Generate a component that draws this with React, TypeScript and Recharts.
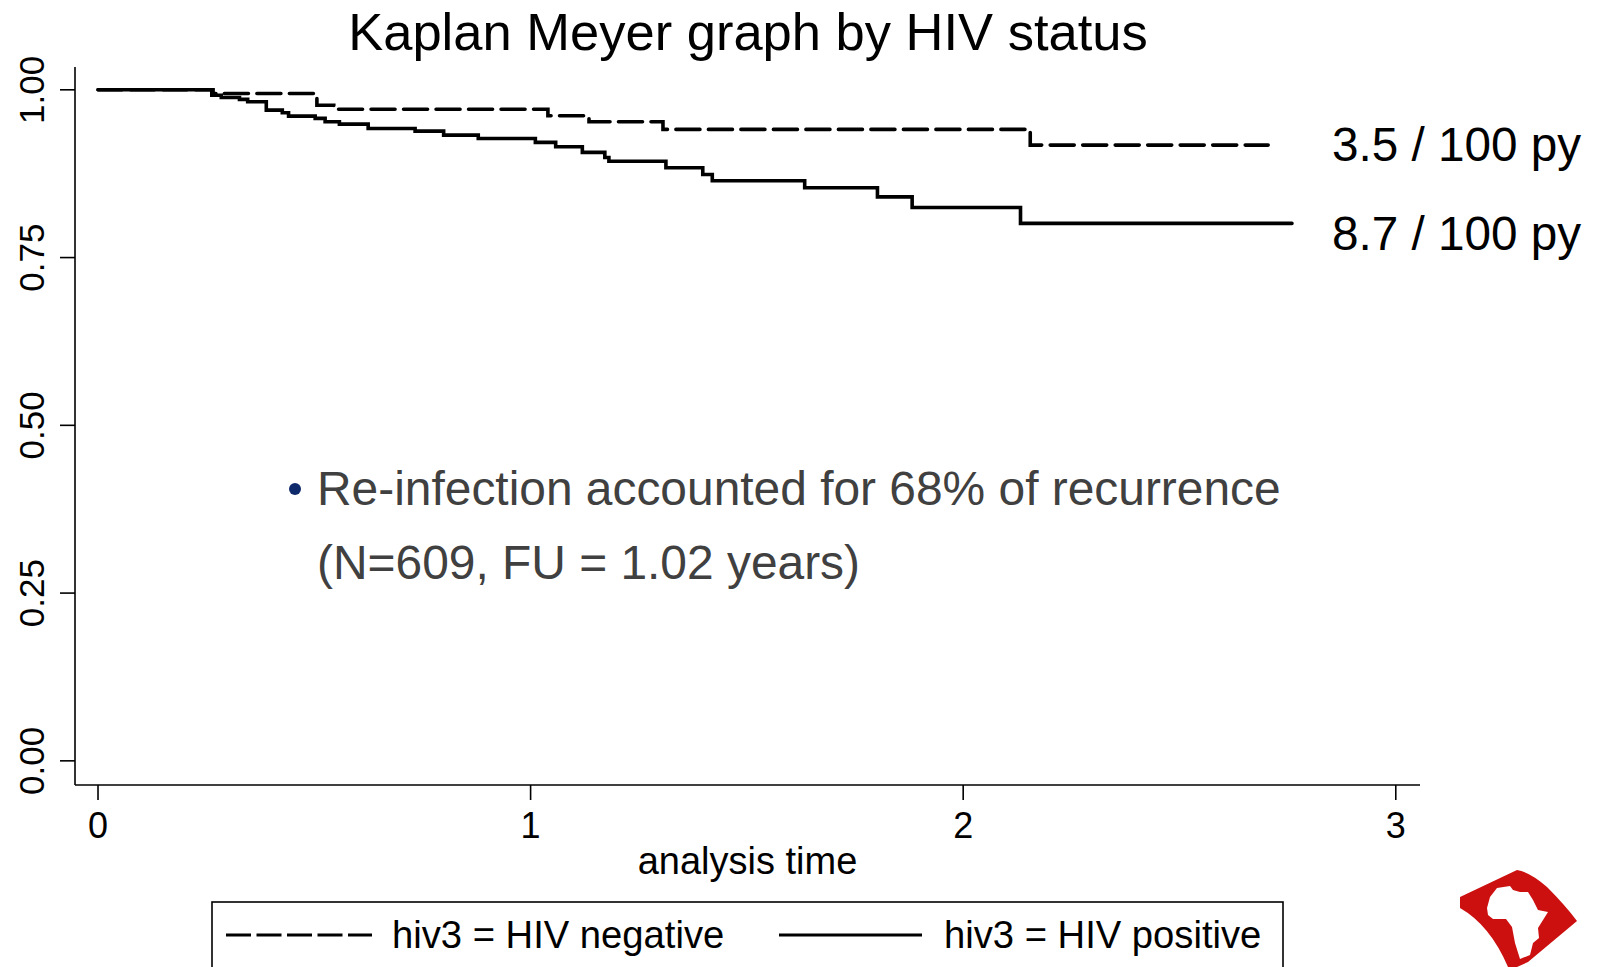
import { Label, Line, LineChart, XAxis, YAxis } from "recharts";

const negativeTimes = [0, 0.266, 0.506, 0.545, 1.04, 1.135, 1.306, 2.155, 2.705];
const negativeSurvival = [1, 0.9946, 0.977, 0.971, 0.9613, 0.9523, 0.941, 0.9176, 0.9176];

const positiveTimes = [
  0, 0.263, 0.285, 0.327, 0.346, 0.389, 0.426, 0.4405, 0.502, 0.525, 0.558, 0.6245, 0.733, 0.799,
  0.879, 1.011, 1.058, 1.1196, 1.1716, 1.181, 1.3128, 1.398, 1.42, 1.6336, 1.8018, 1.882, 2.1325,
  2.76,
];
const positiveSurvival = [
  1, 0.992, 0.9886, 0.9857, 0.9823, 0.9698, 0.9658, 0.9608, 0.9574, 0.9524, 0.9489, 0.9424, 0.9385,
  0.9325, 0.9275, 0.9216, 0.9151, 0.9067, 0.8992, 0.8935, 0.8838, 0.8739, 0.8644, 0.854, 0.8405,
  0.8247, 0.8009, 0.8009,
];

const xTicks = [0, 1, 2, 3];
const yTicks = [0, 0.25, 0.5, 0.75, 1];

const negativeRows = negativeTimes.map((t, i) => ({ t, s: negativeSurvival[i] }));
const positiveRows = positiveTimes.map((t, i) => ({ t, s: positiveSurvival[i] }));

const FONT = '"Liberation Sans", Arial, sans-serif';
const DASH = "24 8.5";

function YTick({ x, y, payload }: any) {
  return (
    <text
      x={x - 14}
      y={y}
      transform={`rotate(-90 ${x - 14} ${y})`}
      textAnchor="middle"
      fontSize={35}
      fill="#000"
    >
      {payload.value.toFixed(2)}
    </text>
  );
}

function XTick({ x, y, payload }: any) {
  return (
    <text x={x} y={y + 36} textAnchor="middle" fontSize={36} fill="#000">
      {payload.value}
    </text>
  );
}

export default function App() {
  return (
    <div style={{ position: "absolute", left: 0, top: 0, width: 1600, height: 967, overflow: "hidden", fontFamily: FONT }}>
      <LineChart
        width={1600}
        height={967}
        margin={{ top: 67, right: 180, bottom: 0, left: 0 }}
        style={{ fontFamily: FONT }}
      >
        <XAxis
          dataKey="t"
          type="number"
          domain={[-0.0532, 3.056]}
          ticks={xTicks}
          height={182}
          allowDataOverflow
          interval={0}
          tick={<XTick />}
          tickSize={15}
          stroke="#000"
          strokeWidth={1.6}
        >
          <Label value="analysis time" position="insideTop" offset={62} fontSize={38} fill="#000" />
        </XAxis>
        <YAxis
          dataKey="s"
          type="number"
          domain={[-0.036, 1.034]}
          ticks={yTicks}
          width={75}
          allowDataOverflow
          interval={0}
          tick={<YTick />}
          tickSize={15}
          stroke="#000"
          strokeWidth={1.6}
        />
        <Line
          data={negativeRows}
          dataKey="s"
          name="hiv3 = HIV negative"
          type="stepAfter"
          stroke="#000"
          strokeWidth={3.6}
          strokeDasharray={DASH}
          strokeLinecap="round"
          dot={false}
          isAnimationActive={false}
        />
        <Line
          data={positiveRows}
          dataKey="s"
          name="hiv3 = HIV positive"
          type="stepAfter"
          stroke="#000"
          strokeWidth={3.6}
          strokeLinecap="round"
          dot={false}
          isAnimationActive={false}
        />

        <text x={748} y={50} textAnchor="middle" fontSize={52.5} fill="#000">
          Kaplan Meyer graph by HIV status
        </text>
        <text x={1332} y={161} fontSize={47.7} fill="#000">3.5 / 100 py</text>
        <text x={1332} y={250} fontSize={47.7} fill="#000">8.7 / 100 py</text>

        <circle cx={295} cy={489} r={6} fill="#0f2a6b" />
        <text x={317} y={505} fontSize={47.9} fill="#404040">Re-infection accounted for 68% of recurrence</text>
        <text x={317} y={579} fontSize={47.9} fill="#404040">(N=609, FU = 1.02 years)</text>

        <rect x={212} y={902} width={1071} height={90} fill="none" stroke="#000" strokeWidth={1.6} />
        <line x1={226} x2={372} y1={935} y2={935} stroke="#000" strokeWidth={3.2} strokeDasharray="25 5.5" />
        <text x={392} y={948} fontSize={38.2} fill="#000">hiv3 = HIV negative</text>
        <line x1={779} x2={922} y1={935} y2={935} stroke="#000" strokeWidth={3.2} />
        <text x={944} y={948} fontSize={38.2} fill="#000">hiv3 = HIV positive</text>

        <path
          d="M1460 897 L1517 870 Q1530 872 1547 887 Q1565 905 1577 921 L1528 962 L1517 967 L1508 967 Q1490 925 1460 908 Z"
          fill="#cc1010"
        />
        <path
          d="M1487 908 L1490 897 L1497 888 L1510 886 L1513 890 L1520 892 L1528 892 L1533 900 L1538 910 L1548 912 L1543 920 L1538 928 L1539 938 L1533 943 L1530 955 L1520 959 L1515 943 L1512 927 L1506 919 L1493 919 L1488 915 Z"
          fill="#fff"
        />
      </LineChart>
    </div>
  );
}
